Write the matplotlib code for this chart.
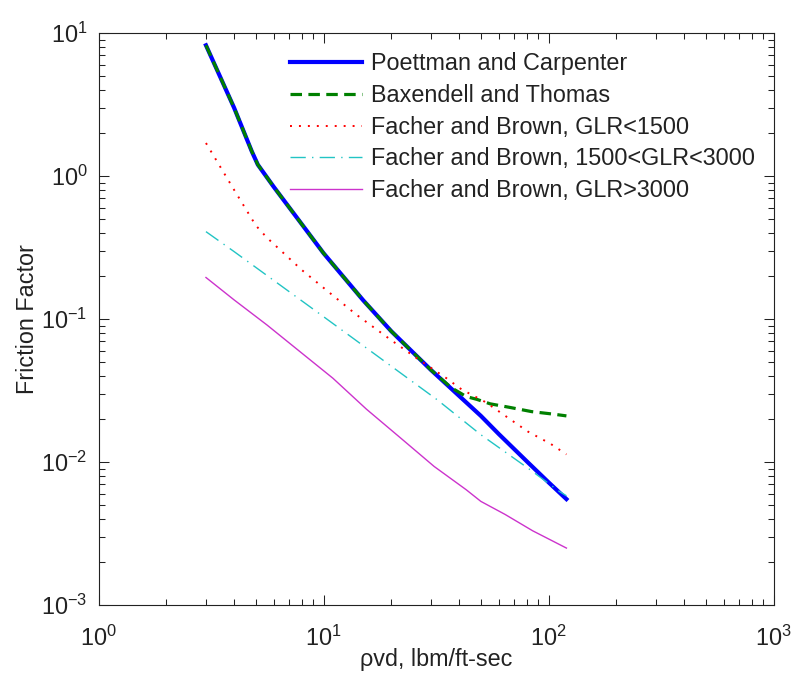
import matplotlib
matplotlib.use("Agg")
import matplotlib.pyplot as plt
import numpy as np

plt.rcParams['font.family'] = ['Liberation Sans', 'DejaVu Sans']
plt.rcParams['mathtext.fontset'] = 'custom'
plt.rcParams['mathtext.rm'] = 'Liberation Sans'
plt.rcParams['mathtext.it'] = 'Liberation Sans:italic'
plt.rcParams['mathtext.bf'] = 'Liberation Sans:bold'
plt.rcParams['axes.unicode_minus'] = False
plt.rcParams['font.size'] = 16.8

# Poettman and Carpenter
x_pc = [3, 4, 4.8, 5.1, 6, 8, 10, 15, 20, 30, 40, 50, 60, 80, 100, 120]
y_pc = [8.2, 3.0, 1.48, 1.2, 0.84, 0.46, 0.288, 0.135, 0.082, 0.044, 0.029,
        0.021, 0.0157, 0.0101, 0.0072, 0.0055]

# Baxendell and Thomas
x_bt = [3, 4, 4.8, 5.1, 6, 8, 10, 15, 20, 30, 37, 43, 48, 55, 67, 84, 105, 120]
y_bt = [8.2, 3.0, 1.48, 1.2, 0.84, 0.46, 0.288, 0.135, 0.082, 0.044, 0.033,
        0.0287, 0.0274, 0.0255, 0.0241, 0.0225, 0.0216, 0.0210]

# Fancher and Brown, GLR<1500
x_fb1 = [3, 4, 5, 5.6, 8, 10, 14, 20, 26, 35, 41, 52, 56, 70, 81, 102, 120]
y_fb1 = [1.7, 0.80, 0.45, 0.37, 0.22, 0.165, 0.107, 0.071, 0.053, 0.0387,
         0.0322, 0.0264, 0.0244, 0.0191, 0.0163, 0.0134, 0.0113]

# Fancher and Brown, 1500<GLR<3000
x_fb2 = [3, 4, 10, 32, 50, 83, 112, 120]
y_fb2 = [0.408, 0.296, 0.1037, 0.0272, 0.0155, 0.0088, 0.0062, 0.0058]

# Fancher and Brown, GLR>3000
x_fb3 = [3, 4, 5.6, 7.85, 11, 15.5, 22, 31, 43, 50, 64, 85, 120]
y_fb3 = [0.195, 0.136, 0.0908, 0.0591, 0.0385, 0.0234, 0.0147, 0.0093,
         0.0064, 0.0053, 0.0043, 0.0033, 0.0025]

labels = ['Poettman and Carpenter', 'Baxendell and Thomas',
          'Facher and Brown, GLR<1500', 'Facher and Brown, 1500<GLR<3000',
          'Facher and Brown, GLR>3000']

fig = plt.figure(figsize=(7.94, 6.77), dpi=100)
ax = fig.add_axes([0.1242, 0.1064, 0.8501, 0.8449])

ax.plot(x_pc, y_pc, color='#0000FF', lw=3.0, label=labels[0])
ax.plot(x_bt, y_bt, color='#008000', lw=2.3, dashes=(3.6, 2.0), label=labels[1])
ax.plot(x_fb1, y_fb1, color='#FF0000', lw=1.4, dashes=(1, 3.6), label=labels[2])
ax.plot(x_fb2, y_fb2, color='#22C4C4', lw=1.0, dashes=(11, 4.5, 1, 4.5), label=labels[3])
ax.plot(x_fb3, y_fb3, color='#CC33CC', lw=1.0, label=labels[4])

ax.set_xscale('log')
ax.set_yscale('log')
ax.set_xlim(1, 1000)
ax.set_ylim(1e-3, 10)

ax.tick_params(which='both', direction='in', top=True, right=True, width=0.75,
               colors='#222222', labelcolor='#222222')
ax.tick_params(which='major', length=7)
ax.tick_params(axis='x', which='major', pad=15)
ax.tick_params(axis='y', which='major', pad=8)
ax.tick_params(which='minor', length=4)
for s in ax.spines.values():
    s.set_linewidth(0.8)
    s.set_color('#222222')

ax.set_xlabel('\u03c1vd, lbm/ft-sec', color='#222222')
ax.set_ylabel('Friction Factor', color='#222222')
ax.xaxis.set_label_coords(0.5, -0.075)
ax.yaxis.set_label_coords(-0.089, 0.5)

leg = ax.legend(loc='upper left', bbox_to_anchor=(0.2836, 0.966), frameon=False,
                borderpad=0, borderaxespad=0, handlelength=3.1, handletextpad=0.35,
                labelspacing=0.37)
for t in leg.get_texts():
    t.set_color('#222222')

fig.savefig('out.png', dpi=100)
